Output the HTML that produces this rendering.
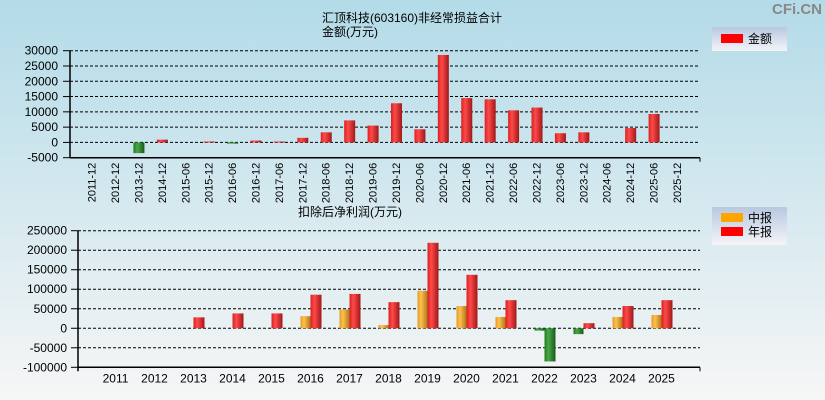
<!DOCTYPE html>
<html><head><meta charset="utf-8"><style>
html,body{margin:0;padding:0;width:825px;height:400px;overflow:hidden;}
html{background:#f6f6f6;}
body{background:linear-gradient(#b3dbe8,#f6f6f6);}
svg{display:block;}
svg text{font-family:"Liberation Sans","Noto Sans CJK SC",sans-serif;font-size:12px;fill:#000;}
</style></head><body>
<svg id="c" width="825" height="400" xmlns="http://www.w3.org/2000/svg">
<defs>
<linearGradient id="gr" x1="0" x2="1"><stop offset="0" stop-color="#d92020"/><stop offset="0.35" stop-color="#ff4a4a"/><stop offset="1" stop-color="#a01818"/></linearGradient>
<linearGradient id="gg" x1="0" x2="1"><stop offset="0" stop-color="#1e7a1e"/><stop offset="0.35" stop-color="#48a848"/><stop offset="1" stop-color="#1a5a1a"/></linearGradient>
<linearGradient id="go" x1="0" x2="1"><stop offset="0" stop-color="#e09a20"/><stop offset="0.35" stop-color="#ffc050"/><stop offset="1" stop-color="#b07818"/></linearGradient>
<linearGradient id="lg" x1="0" y1="0" x2="0" y2="1"><stop offset="0" stop-color="#b8c8e0"/><stop offset="1" stop-color="#f4f4f8"/></linearGradient>
</defs>
<text x="797" y="14" style="font-size:15px;fill:#888;font-weight:bold" text-anchor="middle">CFi.CN</text>
<text x="412" y="22" text-anchor="middle">汇顶科技(603160)非经常损益合计</text>
<text x="350" y="36" text-anchor="middle">金额(万元)</text>
<text x="350" y="216" text-anchor="middle">扣除后净利润(万元)</text>
<g>
<rect x="712" y="27" width="75" height="24" fill="url(#lg)"/>
<rect x="721" y="34" width="22" height="9" fill="#ff0000"/>
<text x="748" y="43">金额</text>
</g>
<g>
<rect x="712" y="207" width="75" height="38" fill="url(#lg)"/>
<rect x="721" y="213" width="22" height="9" fill="#ffa500"/>
<text x="748" y="222">中报</text>
<rect x="721" y="227" width="22" height="9" fill="#ff0000"/>
<text x="748" y="236">年报</text>
</g>
<g id="top"></g><g id="bot"></g>
</svg>
<script>
const topCats=["2011-12","2012-12","2013-12","2014-12","2015-06","2015-12","2016-06","2016-12","2017-06","2017-12","2018-06","2018-12","2019-06","2019-12","2020-06","2020-12","2021-06","2021-12","2022-06","2022-12","2023-06","2023-12","2024-06","2024-12","2025-06","2025-12"];
const topVals=[0,0,-3500,900,0,300,-400,600,300,1500,3300,7200,5500,12800,4300,28600,14500,14100,10500,11400,3000,3300,0,4700,9300,0];
const topTicks=[30000,25000,20000,15000,10000,5000,0,-5000];
const botCats=["2011","2012","2013","2014","2015","2016","2017","2018","2019","2020","2021","2022","2023","2024","2025"];
const botMid=[0,0,0,0,0,31000,48000,8000,96000,57000,29000,-6000,-15000,29000,34000];
const botAnnual=[0,0,28000,38000,38000,86000,88000,67000,219000,137000,72000,-85000,13000,57000,72000];
const botTicks=[250000,200000,150000,100000,50000,0,-50000,-100000];
const NS="http://www.w3.org/2000/svg";
function mk(tag,attrs,parent,txt){const e=document.createElementNS(NS,tag);for(const k in attrs)e.setAttribute(k,attrs[k]);if(txt!==undefined)e.textContent=txt;parent.appendChild(e);return e;}
(function(){
const g=document.getElementById('top');
const x0=70,x1=700,yT=50.7,yB=157.7,vmax=30000,vmin=-5000;
const y=v=>yT+(vmax-v)/(vmax-vmin)*(yB-yT);
const first=91.6,last=677;
const step=(last-first)/(topCats.length-1);
const cx=i=>first+step*i;
topTicks.forEach(t=>{
 if(t!==vmin){const l=mk('line',{x1:x0,x2:x1,y1:y(t),y2:y(t),stroke:'#000','stroke-dasharray':'3,2','stroke-width':1},g);
 
 }
 mk('line',{x1:x0-7,x2:x0,y1:y(t),y2:y(t),stroke:'#000'},g);
 const tx=mk('text',{x:x0-12,y:y(t)+4,'text-anchor':'end'},g,t);
 
 
});
mk('line',{x1:x0,x2:x0,y1:yT,y2:yB,stroke:'#000','stroke-width':1.5},g);
mk('line',{x1:x0,x2:x1,y1:yB,y2:yB,stroke:'#000','stroke-width':1.5},g);
mk('line',{x1:x1,x2:x1,y1:yB,y2:yB+4,stroke:'#000'},g);
topCats.forEach((c,i)=>{
 const x=cx(i);
 const tx=mk('text',{x:x+4,y:yB+5,'text-anchor':'end',style:'font-size:11px',transform:`rotate(-90 ${x+4} ${yB+5})`},g,c);
 
 
 const v=topVals[i];
 if(v!==0){
  const r=mk('rect',{x:x-5,y:Math.min(y(v),y(0)),width:11,height:Math.max(1,Math.abs(y(v)-y(0))),fill:v>=0?'url(#gr)':'url(#gg)'},g);
  
  
 }
});
})();
(function(){
const g=document.getElementById('bot');
const x0=78,x1=700,yT=230.7,yB=367.3,vmax=250000,vmin=-100000;
const y=v=>yT+(vmax-v)/(vmax-vmin)*(yB-yT);
const cx=i=>115.5+i*39;
botTicks.forEach(t=>{
 if(t!==vmin){const l=mk('line',{x1:x0,x2:x1,y1:y(t),y2:y(t),stroke:'#000','stroke-dasharray':'3,2','stroke-width':1},g);
 
 }
 mk('line',{x1:x0-7,x2:x0,y1:y(t),y2:y(t),stroke:'#000'},g);
 const tx=mk('text',{x:x0-11,y:y(t)+4,'text-anchor':'end'},g,t);
 
 
});
mk('line',{x1:x0,x2:x0,y1:yT,y2:yB+4,stroke:'#000','stroke-width':1.5},g);
mk('line',{x1:x0,x2:x1,y1:yB,y2:yB,stroke:'#000','stroke-width':1.5},g);
mk('line',{x1:x1,x2:x1,y1:yB,y2:yB+4,stroke:'#000'},g);
botCats.forEach((c,i)=>{
 const x=cx(i);
 const tx=mk('text',{x:x,y:yB+15,'text-anchor':'middle'},g,c);
 
 
 const m=botMid[i],a=botAnnual[i];
 if(m!==0){
  const r=mk('rect',{x:x-10,y:Math.min(y(m),y(0)),width:10,height:Math.max(1,Math.abs(y(m)-y(0))),fill:m>=0?'url(#go)':'url(#gg)'},g);
  
  
 }
 if(a!==0){
  const r=mk('rect',{x:x,y:Math.min(y(a),y(0)),width:11,height:Math.max(1,Math.abs(y(a)-y(0))),fill:a>=0?'url(#gr)':'url(#gg)'},g);
  
  
 }
});
})();
</script>
</body></html>
